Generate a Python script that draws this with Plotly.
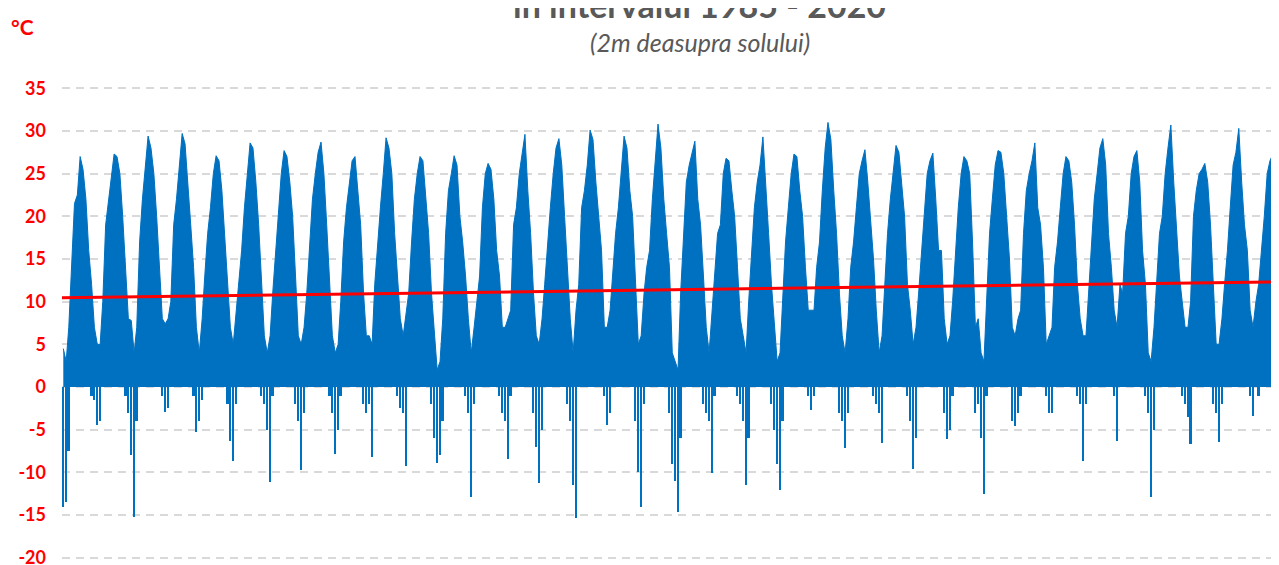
import plotly.graph_objects as go

# ---------------- data ----------------
years = list(range(1985, 2021))
months = list(range(1, 13))

# monthly maximum of the daily temperature (°C), Jan..Dec, per year
tmax_monthly = [
    [4.5, 3.0, 7.0, 14.5, 21.5, 22.5, 27.0, 25.5, 22.0, 16.0, 12.0, 7.0],   # 1985
    [5.0, 5.0, 10.0, 19.0, 22.0, 25.0, 27.3, 27.0, 25.0, 20.0, 14.0, 8.0],  # 1986
    [7.8, 4.0, 7.0, 17.0, 22.0, 26.0, 29.4, 28.0, 25.0, 20.0, 14.0, 8.0],   # 1987
    [7.4, 8.0, 10.0, 19.0, 22.0, 26.0, 29.7, 28.5, 24.0, 19.0, 14.0, 7.0],  # 1988
    [4.0, 8.0, 13.0, 18.0, 21.0, 25.0, 27.1, 26.5, 23.0, 18.0, 13.0, 7.0],  # 1989
    [5.0, 9.0, 13.0, 16.0, 21.0, 25.0, 28.6, 28.0, 24.0, 19.0, 12.0, 6.0],  # 1990
    [4.0, 6.0, 11.0, 16.0, 20.0, 25.0, 27.7, 27.0, 24.0, 20.0, 13.0, 6.0],  # 1991
    [5.0, 7.0, 11.0, 17.0, 22.0, 25.0, 27.5, 28.7, 25.0, 19.0, 13.0, 6.0],  # 1992
    [4.0, 5.0, 10.0, 17.0, 21.0, 24.0, 26.5, 27.0, 23.0, 19.0, 11.0, 6.0],  # 1993
    [6.0, 5.0, 12.0, 17.0, 21.0, 25.0, 29.2, 28.0, 25.0, 18.0, 13.0, 8.0],  # 1994
    [6.0, 9.0, 11.0, 17.0, 22.0, 25.0, 27.0, 26.5, 22.0, 18.0, 11.0, 6.0],  # 1995
    [2.0, 3.0, 8.0, 18.0, 23.0, 25.0, 27.1, 26.0, 20.0, 17.0, 13.0, 8.0],   # 1996
    [4.0, 7.0, 10.0, 13.0, 21.0, 25.0, 26.2, 25.5, 22.0, 16.0, 13.0, 7.0],  # 1997
    [7.0, 8.0, 9.0, 19.0, 21.0, 25.0, 27.5, 29.6, 23.0, 18.0, 11.0, 6.0],   # 1998
    [5.0, 8.0, 12.0, 17.0, 21.0, 25.0, 28.0, 29.1, 26.0, 20.0, 14.0, 8.0],  # 1999
    [4.0, 9.0, 12.0, 21.0, 23.0, 26.0, 30.1, 29.0, 24.0, 20.0, 16.0, 7.0],  # 2000
    [7.0, 9.0, 13.0, 18.0, 21.0, 25.0, 29.4, 28.0, 23.0, 20.0, 12.0, 5.0],  # 2001
    [6.0, 11.0, 14.0, 16.0, 22.0, 27.0, 30.8, 28.0, 22.0, 18.0, 14.0, 4.0], # 2002
    [3.0, 2.0, 11.0, 17.0, 24.0, 26.0, 27.5, 28.8, 22.0, 19.0, 13.0, 7.0],  # 2003
    [4.0, 9.0, 13.0, 18.0, 19.0, 25.0, 26.8, 26.5, 23.0, 20.0, 14.0, 8.0],  # 2004
    [6.0, 4.0, 10.0, 16.0, 21.0, 24.0, 26.0, 29.3, 24.0, 18.0, 12.0, 7.0],  # 2005
    [3.0, 4.0, 11.0, 17.0, 21.0, 25.0, 27.3, 27.0, 23.0, 20.0, 14.0, 9.0],  # 2006
    [9.0, 9.0, 14.0, 17.0, 23.0, 28.0, 31.0, 29.0, 23.0, 18.0, 11.0, 6.0],  # 2007
    [4.0, 8.0, 14.0, 17.0, 21.0, 25.0, 26.5, 27.8, 24.0, 20.0, 15.0, 9.0],  # 2008
    [4.0, 6.0, 12.0, 18.0, 22.0, 25.0, 28.3, 27.5, 24.0, 20.0, 12.0, 9.0],  # 2009
    [5.0, 7.0, 11.0, 16.0, 21.0, 25.0, 26.5, 27.4, 22.0, 16.0, 16.0, 8.0],  # 2010
    [5.0, 6.0, 10.0, 16.0, 21.0, 25.0, 27.0, 26.5, 25.0, 17.0, 7.0, 8.0],   # 2011
    [4.0, 3.0, 11.0, 18.0, 22.0, 26.0, 27.7, 27.5, 25.0, 20.0, 15.0, 7.0],  # 2012
    [6.0, 8.0, 9.0, 18.0, 23.0, 25.0, 26.5, 28.6, 21.0, 19.0, 14.0, 5.0],   # 2013
    [6.0, 7.0, 14.0, 17.0, 21.0, 25.0, 27.0, 26.5, 24.0, 19.0, 12.0, 8.0],  # 2014
    [6.0, 6.0, 11.0, 16.0, 22.0, 25.0, 28.0, 29.1, 26.0, 18.0, 14.0, 9.0],  # 2015
    [7.0, 12.0, 11.0, 18.0, 20.0, 25.0, 27.0, 27.7, 24.0, 16.0, 12.0, 4.0], # 2016
    [3.0, 7.0, 13.0, 18.0, 20.0, 25.0, 28.0, 30.7, 24.0, 18.0, 13.0, 10.0], # 2017
    [7.0, 7.0, 10.0, 20.0, 23.0, 25.0, 25.5, 26.2, 24.0, 19.0, 11.0, 5.0],  # 2018
    [5.0, 8.0, 12.0, 16.0, 21.0, 26.0, 27.5, 30.3, 24.0, 19.0, 16.0, 9.0],  # 2019
    [7.0, 10.0, 12.0, 16.0, 20.0, 25.0, 26.5, 27.3, 25.0, 20.0, 12.0, 6.0], # 2020
]

# monthly minimum (negative part only, °C), Jan..Dec, per year
tmin_monthly = [
    [-14.0, -13.5, -7.5, 0, 0, 0, 0, 0, 0, 0, -1.0, -1.5],   # 1985
    [-4.5, -4.0, 0, 0, 0, 0, 0, 0, 0, 0, -1.0, -3.0],        # 1986
    [-8.0, -15.2, -4.0, 0, 0, 0, 0, 0, 0, 0, 0, -1.0],       # 1987
    [-2.9, -2.5, 0, 0, 0, 0, 0, 0, 0, 0, -1.0, -5.3],        # 1988
    [-4.0, -1.5, 0, 0, 0, 0, 0, 0, 0, 0, -2.0, -6.3],        # 1989
    [-8.7, -2.0, 0, 0, 0, 0, 0, 0, 0, 0, -1.0, -2.0],        # 1990
    [-5.0, -11.1, -1.0, 0, 0, 0, 0, 0, 0, 0, -2.0, -4.0],    # 1991
    [-9.7, -3.0, 0, 0, 0, 0, 0, 0, 0, 0, -1.0, -3.0],        # 1992
    [-7.9, -5.0, -1.0, 0, 0, 0, 0, 0, 0, 0, -2.0, -3.0],     # 1993
    [-2.0, -8.2, 0, 0, 0, 0, 0, 0, 0, 0, -1.0, -2.5],        # 1994
    [-3.0, -9.3, 0, 0, 0, 0, 0, 0, 0, 0, -2.0, -6.0],        # 1995
    [-8.9, -8.0, -4.0, 0, 0, 0, 0, 0, 0, 0, -1.0, -3.0],     # 1996
    [-12.9, -2.0, 0, 0, 0, 0, 0, 0, 0, 0, -1.0, -3.0],       # 1997
    [-4.0, -8.4, -1.0, 0, 0, 0, 0, 0, 0, 0, -3.0, -7.0],     # 1998
    [-11.3, -5.0, 0, 0, 0, 0, 0, 0, 0, 0, -2.0, -4.0],       # 1999
    [-11.5, -15.4, 0, 0, 0, 0, 0, 0, 0, 0, 0, -1.0],         # 2000
    [-4.5, -3.0, 0, 0, 0, 0, 0, 0, 0, 0, -4.0, -10.0],       # 2001
    [-14.1, -2.0, 0, 0, 0, 0, 0, 0, 0, 0, -3.0, -9.0],       # 2002
    [-11.0, -14.6, -6.0, 0, 0, 0, 0, 0, 0, 0, -2.0, -3.0],   # 2003
    [-4.0, -10.1, -1.0, 0, 0, 0, 0, 0, 0, 0, -1.0, -2.0],    # 2004
    [-4.0, -11.5, -6.0, 0, 0, 0, 0, 0, 0, 0, -2.0, -5.0],    # 2005
    [-9.0, -12.1, -4.0, 0, 0, 0, 0, 0, 0, 0, 0, -1.0],       # 2006
    [-2.7, -1.0, 0, 0, 0, 0, 0, 0, 0, 0, -3.0, -4.0],        # 2007
    [-7.1, -3.0, 0, 0, 0, 0, 0, 0, 0, 0, -1.0, -2.0],        # 2008
    [-3.0, -6.6, 0, 0, 0, 0, 0, 0, 0, 0, -1.0, -4.0],        # 2009
    [-9.6, -6.0, 0, 0, 0, 0, 0, 0, 0, 0, 0, -3.0],           # 2010
    [-6.1, -5.0, -1.0, 0, 0, 0, 0, 0, 0, 0, -3.0, -2.0],     # 2011
    [-6.0, -12.5, -1.0, 0, 0, 0, 0, 0, 0, 0, 0, -4.0],       # 2012
    [-4.6, -3.0, -1.0, 0, 0, 0, 0, 0, 0, 0, 0, -1.0],        # 2013
    [-3.0, -3.0, 0, 0, 0, 0, 0, 0, 0, 0, -1.0, -2.0],        # 2014
    [-8.7, -2.0, 0, 0, 0, 0, 0, 0, 0, 0, 0, -1.0],           # 2015
    [-6.3, 0, 0, 0, 0, 0, 0, 0, 0, 0, -1.0, -3.0],           # 2016
    [-12.9, -5.0, 0, 0, 0, 0, 0, 0, 0, 0, 0, -1.0],          # 2017
    [-2.0, -3.5, -6.7, 0, 0, 0, 0, 0, 0, 0, -2.0, -3.0],     # 2018
    [-6.4, -2.0, 0, 0, 0, 0, 0, 0, 0, 0, 0, -1.0],           # 2019
    [-3.4, 0, -1.0, 0, 0, 0, 0, 0, 0, 0, 0, 0],              # 2020
]

# linear trend (read at the two ends of the period)
trend_dates = ["1985-01-01", "2020-12-31"]
trend_values = [10.45, 12.34]

y_ticks = [35, 30, 25, 20, 15, 10, 5, 0, -5, -10, -15, -20]

title_line = "în intervalul 1985 - 2020"
subtitle = "(2m deasupra solului)"
unit_label = "°C"

# ---------------- build figure ----------------
x_dates = [f"{y}-{m:02d}-15" for y in years for m in months]
hi = [v for row in tmax_monthly for v in row]
lo = [v for row in tmin_monthly for v in row]

BLUE = "#0070C0"
fig = go.Figure()
fig.add_trace(go.Scatter(
    x=x_dates, y=hi, mode="lines", fill="tozeroy",
    line=dict(color=BLUE, width=1), fillcolor=BLUE, hoverinfo="skip"))
fig.add_trace(go.Bar(
    x=x_dates, y=lo, marker=dict(color=BLUE, line=dict(width=0)),
    width=20 * 86400000))
fig.add_trace(go.Scatter(
    x=trend_dates, y=trend_values, mode="lines",
    line=dict(color="#FF0000", width=3)))

# the page body has an 8px margin: figure pixel = page pixel - 8
OFF = 8
W, H = 1279 - OFF, 565 - OFF
L, T, B = 62 - OFF, 76, 3
ph = H - T - B
pw = W - L


def px_x(p):
    return (p - OFF - L) / pw


def px_y(p):
    return 1 + (T - (p - OFF)) / ph


fig.update_layout(
    width=W, height=H,
    margin=dict(l=L, r=0, t=T, b=B, autoexpand=False),
    plot_bgcolor="white", paper_bgcolor="white",
    showlegend=False, bargap=0,
    xaxis=dict(type="date", range=["1985-01-01", "2020-10-20"],
               showgrid=False, showticklabels=False, zeroline=False,
               showline=False, ticks=""),
    yaxis=dict(range=[-20.5, 35.5], tickvals=y_ticks,
               ticktext=[str(v) for v in y_ticks],
               tickfont=dict(family="Lato", size=18, color="#FF0000", weight=700),
               showgrid=True, gridcolor="#D9D9D9", gridwidth=2,
               griddash="8px,6px", zeroline=False, showline=False, ticks="",
               ticklabelstandoff=15, ticklabeloverflow="allow"),
    annotations=[
        dict(text=title_line, xref="paper", yref="paper",
             x=px_x(698), y=px_y(4), xanchor="center", yanchor="middle",
             showarrow=False,
             font=dict(family="Lato", size=34, color="#595959", weight=700)),
        dict(text=subtitle, xref="paper", yref="paper",
             x=px_x(700), y=px_y(42), xanchor="center", yanchor="middle",
             showarrow=False,
             font=dict(family="Lato", size=25, color="#595959", style="italic")),
        dict(text=unit_label, xref="paper", yref="paper",
             x=px_x(22.5), y=px_y(27), xanchor="center", yanchor="middle",
             showarrow=False,
             font=dict(family="Lato", size=21, color="#FF0000", weight=700)),
    ],
)

fig.write_html("out.html")
